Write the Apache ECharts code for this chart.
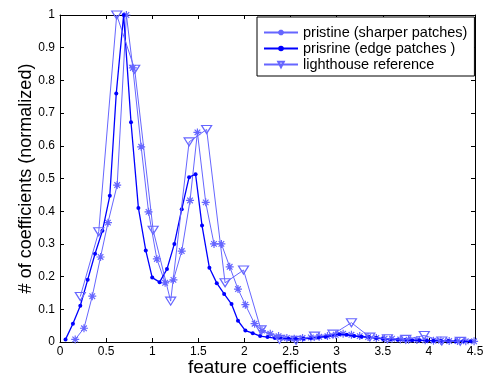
<!DOCTYPE html>
<html>
<head>
<meta charset="utf-8">
<script src="https://cdn.jsdelivr.net/npm/echarts@6/dist/echarts.min.js"></script>
<style>
html,body{margin:0;padding:0;background:#fff;}
#chart{width:496px;height:378px;}
</style>
</head>
<body>
<div id="chart"></div>
<script>
// ---- data ----
var seriesNames = ['pristine (sharper patches)', 'prisrine (edge patches )', 'lighthouse reference'];
var xTicks = ['0','0.5','1','1.5','2','2.5','3','3.5','4','4.5'];
var yTicks = ['0','0.1','0.2','0.3','0.4','0.5','0.6','0.7','0.8','0.9','1'];

var sharpX = [0.165,0.26,0.35,0.44,0.52,0.62,0.72,0.79,0.88,0.96,1.05,1.14,1.23,1.32,1.41,1.49,1.58,1.67,1.75,1.84,1.93,2.01,2.11,2.19,2.28,2.37,2.46,2.54,2.63,2.72,2.81,2.90,2.99,3.07,3.16,3.25,3.34,3.43,3.52,3.60,3.69,3.78,3.87,3.96,4.05,4.13,4.22,4.31,4.40,4.49];
var sharpY = [0.008,0.042,0.14,0.26,0.365,0.48,1.0,0.838,0.597,0.398,0.254,0.181,0.19,0.278,0.433,0.641,0.427,0.30,0.30,0.23,0.162,0.114,0.056,0.035,0.025,0.018,0.012,0.010,0.012,0.014,0.016,0.018,0.022,0.025,0.022,0.018,0.015,0.012,0.010,0.010,0.008,0.007,0.006,0.005,0.004,0.004,0.003,0.003,0.002,0.002];

var edgeX = [0.06,0.14,0.22,0.30,0.38,0.46,0.54,0.61,0.69,0.77,0.85,0.93,1.00,1.08,1.16,1.24,1.32,1.40,1.47,1.54,1.62,1.70,1.78,1.86,1.93,2.01,2.09,2.17,2.25,2.33,2.40,2.48,2.56,2.64,2.72,2.80,2.88,2.95,3.03,3.11,3.19,3.27,3.35,3.43,3.50,3.58,3.66,3.74,3.82,3.90,3.98,4.05,4.13,4.21,4.29,4.37,4.45];
var edgeY = [0.008,0.056,0.111,0.19,0.27,0.34,0.447,0.76,1.0,0.672,0.41,0.28,0.197,0.183,0.223,0.30,0.406,0.504,0.513,0.356,0.227,0.18,0.147,0.116,0.065,0.035,0.027,0.018,0.015,0.012,0.010,0.010,0.009,0.010,0.012,0.014,0.016,0.020,0.024,0.022,0.018,0.016,0.015,0.012,0.010,0.008,0.007,0.006,0.005,0.005,0.004,0.004,0.003,0.003,0.002,0.002,0.002];

var lightX = [0.22,0.42,0.615,0.81,1.01,1.20,1.40,1.59,1.79,1.99,2.18,2.38,2.56,2.76,2.96,3.16,3.36,3.55,3.75,3.95,4.14,4.34];
var lightY = [0.139,0.337,1.0,0.834,0.342,0.125,0.612,0.65,0.181,0.22,0.037,0.008,0.005,0.018,0.024,0.059,0.015,0.010,0.008,0.020,0.003,0.002];

function pairs(xs, ys){ var o=[]; for(var i=0;i<xs.length;i++){o.push([xs[i],ys[i]]);} return o; }

var FONT = 'Liberation Sans, Arial, sans-serif';
var lightBlue = '#6666ff';
var darkBlue = '#0000ff';
var starPath = 'path://M0,-10L0,10M-10,0L10,0M-7,-7L7,7M-7,7L7,-7';
var triPath = 'path://M-10,-8L10,-8L0,8Z';

var chart = echarts.init(document.getElementById('chart'), null, {renderer:'canvas'});

function xAxisDef(pos, showLabel){
  return {
    type:'value', position:pos, min:0, max:4.5, interval:0.5,
    axisLine:{show:true, onZero:false, lineStyle:{color:'#000', width:1}},
    axisTick:{show:true, inside:true, length:4, lineStyle:{color:'#000'}},
    axisLabel:{show:showLabel, color:'#000', fontFamily:FONT, fontSize:12, margin:4,
      formatter:function(v){ var i=Math.round(v/0.5); return xTicks[i]; }},
    splitLine:{show:false},
    name: showLabel ? 'feature coefficients' : '',
    nameLocation:'middle', nameGap:16, nameMoveOverlap:false,
    nameTextStyle:{color:'#000', fontFamily:FONT, fontSize:19}
  };
}
function yAxisDef(pos, showLabel){
  return {
    type:'value', position:pos, min:0, max:1, interval:0.1,
    axisLine:{show:true, onZero:false, lineStyle:{color:'#000', width:1}},
    axisTick:{show:true, inside:true, length:4, lineStyle:{color:'#000'}},
    axisLabel:{show:showLabel, color:'#000', fontFamily:FONT, fontSize:12, margin:5,
      formatter:function(v){ var i=Math.round(v/0.1); return yTicks[i]; }},
    splitLine:{show:false},
    name: showLabel ? '# of coefficients (normalized)' : '',
    nameLocation:'middle', nameGap:25, nameMoveOverlap:false,
    nameTextStyle:{color:'#000', fontFamily:FONT, fontSize:18}
  };
}

chart.setOption({
  animation:false,
  backgroundColor:'#fff',
  grid:{left:60, right:21, top:15, bottom:36, containLabel:false, outerBoundsMode:'none'},
  xAxis:[xAxisDef('bottom', true), xAxisDef('top', false)],
  yAxis:[yAxisDef('left', true), yAxisDef('right', false)],
  legend:{
    orient:'vertical', left:257, top:17,
    backgroundColor:'#fff', borderColor:'#000', borderWidth:1,
    padding:[8, 7, 4, 6], itemGap:1, itemWidth:34, itemHeight:7,
    textStyle:{color:'#000', fontFamily:FONT, fontSize:14.5},
    data:seriesNames
  },
  series:[
    {
      name:seriesNames[0], type:'line', xAxisIndex:0, yAxisIndex:0,
      data:pairs(sharpX, sharpY),
      symbol:starPath, symbolSize:8,
      lineStyle:{color:lightBlue, width:1},
      itemStyle:{color:lightBlue, borderColor:lightBlue, borderWidth:1.2},
      z:2
    },
    {
      name:seriesNames[1], type:'line', xAxisIndex:0, yAxisIndex:0,
      data:pairs(edgeX, edgeY),
      symbol:'circle', symbolSize:4,
      lineStyle:{color:darkBlue, width:1.3},
      itemStyle:{color:darkBlue, borderWidth:0},
      z:3
    },
    {
      name:seriesNames[2], type:'line', xAxisIndex:0, yAxisIndex:0,
      data:pairs(lightX, lightY),
      symbol:triPath, symbolSize:[10,8],
      lineStyle:{color:lightBlue, width:1},
      itemStyle:{color:'rgba(255,255,255,0)', borderColor:lightBlue, borderWidth:1.2},
      z:4
    }
  ]
});
</script>
</body>
</html>
